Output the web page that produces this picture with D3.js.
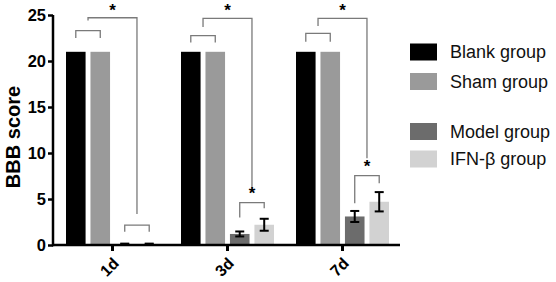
<!DOCTYPE html>
<html><head><meta charset="utf-8">
<script src="https://cdn.jsdelivr.net/npm/d3@7"></script>
<style>body{margin:0;background:#fff}svg{display:block;font-family:"Liberation Sans",Arial,sans-serif}</style>
</head><body><svg id="c" width="556" height="282"></svg>
<script>
const days = ["1d","3d","7d"];
const groups = ["Blank group","Sham group","Model group","IFN-β group"];
const colors = ["#000000","#9a9a9a","#6c6c6c","#d2d2d2"];
const blank = [21,21,21];
const sham = [21,21,21];
const model = [0.1,1.2,3.1];
const modelErr = [0.05,0.27,0.6];
const ifn = [0.1,2.2,4.7];
const ifnErr = [0.05,0.65,1.05];
const yTicks = [0,5,10,15,20,25];
// significance annotations (data units)
const topBr = [{top:23.3,leg:22.5},{top:22.75,leg:22.0},{top:23.0,leg:22.1}];
const lowBr = [{top:2.17,legA:1.45,legB:1.45,star:false},{top:4.6,legA:3.0,legB:4.0,star:true},{top:7.53,legA:4.53,legB:6.7,star:true}];
const bigBr = [{top:24.7,legL:24.4,legR:3.37},{top:24.64,legL:23.7,legR:5.87},{top:24.64,legL:23.8,legR:9.42}];

const svg = d3.select("#c");
const y = d3.scaleLinear().domain([0,25]).range([245,15]);
const x = d3.scaleBand().domain(days).range([55,400]).padding(0);
const x1 = d3.scaleBand().domain(groups).range([11,104]).paddingInner(0.2).paddingOuter(0);
const vals = [blank,sham,model,ifn];
const errs = [null,null,modelErr,ifnErr];

const data = [];
days.forEach((d,i)=>groups.forEach((g,j)=>data.push({d,g,j,v:vals[j][i],e:errs[j]?errs[j][i]:null})));

svg.append("g").selectAll("rect").data(data).join("rect")
  .attr("x",k=>x(k.d)+x1(k.g)).attr("width",x1.bandwidth())
  .attr("y",k=>y(k.v)).attr("height",k=>y(0)-y(k.v))
  .attr("fill",k=>colors[k.j]);

// error bars
const eb = svg.append("g").attr("stroke","#000").attr("stroke-width",2);
data.filter(k=>k.e!==null).forEach(k=>{
  const cx = x(k.d)+x1(k.g)+x1.bandwidth()/2;
  eb.append("line").attr("x1",cx).attr("x2",cx).attr("y1",y(k.v+k.e)).attr("y2",y(k.v-k.e));
  [k.v+k.e,k.v-k.e].forEach(v=>eb.append("line").attr("x1",cx-4.5).attr("x2",cx+4.5).attr("y1",y(v)).attr("y2",y(v)));
});

// axes
const ya = svg.append("g").attr("transform","translate(53,0)")
  .call(d3.axisLeft(y).tickValues(yTicks).tickSize(5).tickPadding(2));
ya.select(".domain").attr("stroke-width",2.5).attr("d","M0,"+y(25)+"V"+(y(0)+1.2));
ya.selectAll(".tick line").attr("stroke-width",2.5);
ya.selectAll("text").attr("font-size",16.5).attr("font-weight","bold").attr("fill","#000").attr("font-family","Liberation Sans, Arial");

const xa = svg.append("g").attr("transform","translate(0,245)")
  .call(d3.axisBottom(x).tickSize(6).tickSizeOuter(0));
xa.select(".domain").attr("stroke-width",2.5).attr("d","M52,0H400");
xa.selectAll(".tick line").attr("stroke-width",3);
xa.selectAll("text").attr("font-size",16).attr("font-weight","bold").attr("fill","#000")
  .attr("font-family","Liberation Sans, Arial")
  .attr("text-anchor","end").attr("dy",0).attr("transform","translate(1,13) rotate(-45)");

svg.append("text").attr("transform","translate(20,137) rotate(-90)")
  .attr("text-anchor","middle").attr("font-size",20).attr("font-weight","bold").text("BBB score");

// brackets
const br = svg.append("g").attr("fill","none").attr("stroke","#7a7a7a").attr("stroke-width",1.3);
const cen = (d,g)=>x(d)+x1(g)+x1.bandwidth()/2;
function star(cx,cy){svg.append("text").attr("x",cx).attr("y",cy).attr("text-anchor","middle")
  .attr("font-size",17).attr("font-weight","bold").text("*");}
days.forEach((d,i)=>{
  const a=cen(d,groups[0]), b=cen(d,groups[1]);
  br.append("path").attr("d",`M${a},${y(topBr[i].leg)}V${y(topBr[i].top)}H${b}V${y(topBr[i].leg)}`);
  const c=cen(d,groups[2]), e=cen(d,groups[3]);
  const L=lowBr[i];
  br.append("path").attr("d",`M${c},${y(L.legA)}V${y(L.top)}H${e}V${y(L.legB)}`);
  if(L.star) star((c+e)/2, y(L.top)-4);
  const B=bigBr[i]; const l=(a+b)/2, r=(c+e)/2;
  br.append("path").attr("d",`M${l},${y(B.legL)}V${y(B.top)}H${r}V${y(B.legR)}`);
  star((l+r)/2, y(B.top)-2);
});

// legend
const leg = svg.append("g");
const legY = [52,81.5,131.5,159];
groups.forEach((g,j)=>{
  leg.append("rect").attr("x",410).attr("y",legY[j]-8.5).attr("width",27).attr("height",17).attr("fill",colors[j]);
  leg.append("text").attr("x",450).attr("y",legY[j]).attr("dy","0.35em").attr("font-size",18).attr("fill","#111").text(g);
});
</script></body></html>
